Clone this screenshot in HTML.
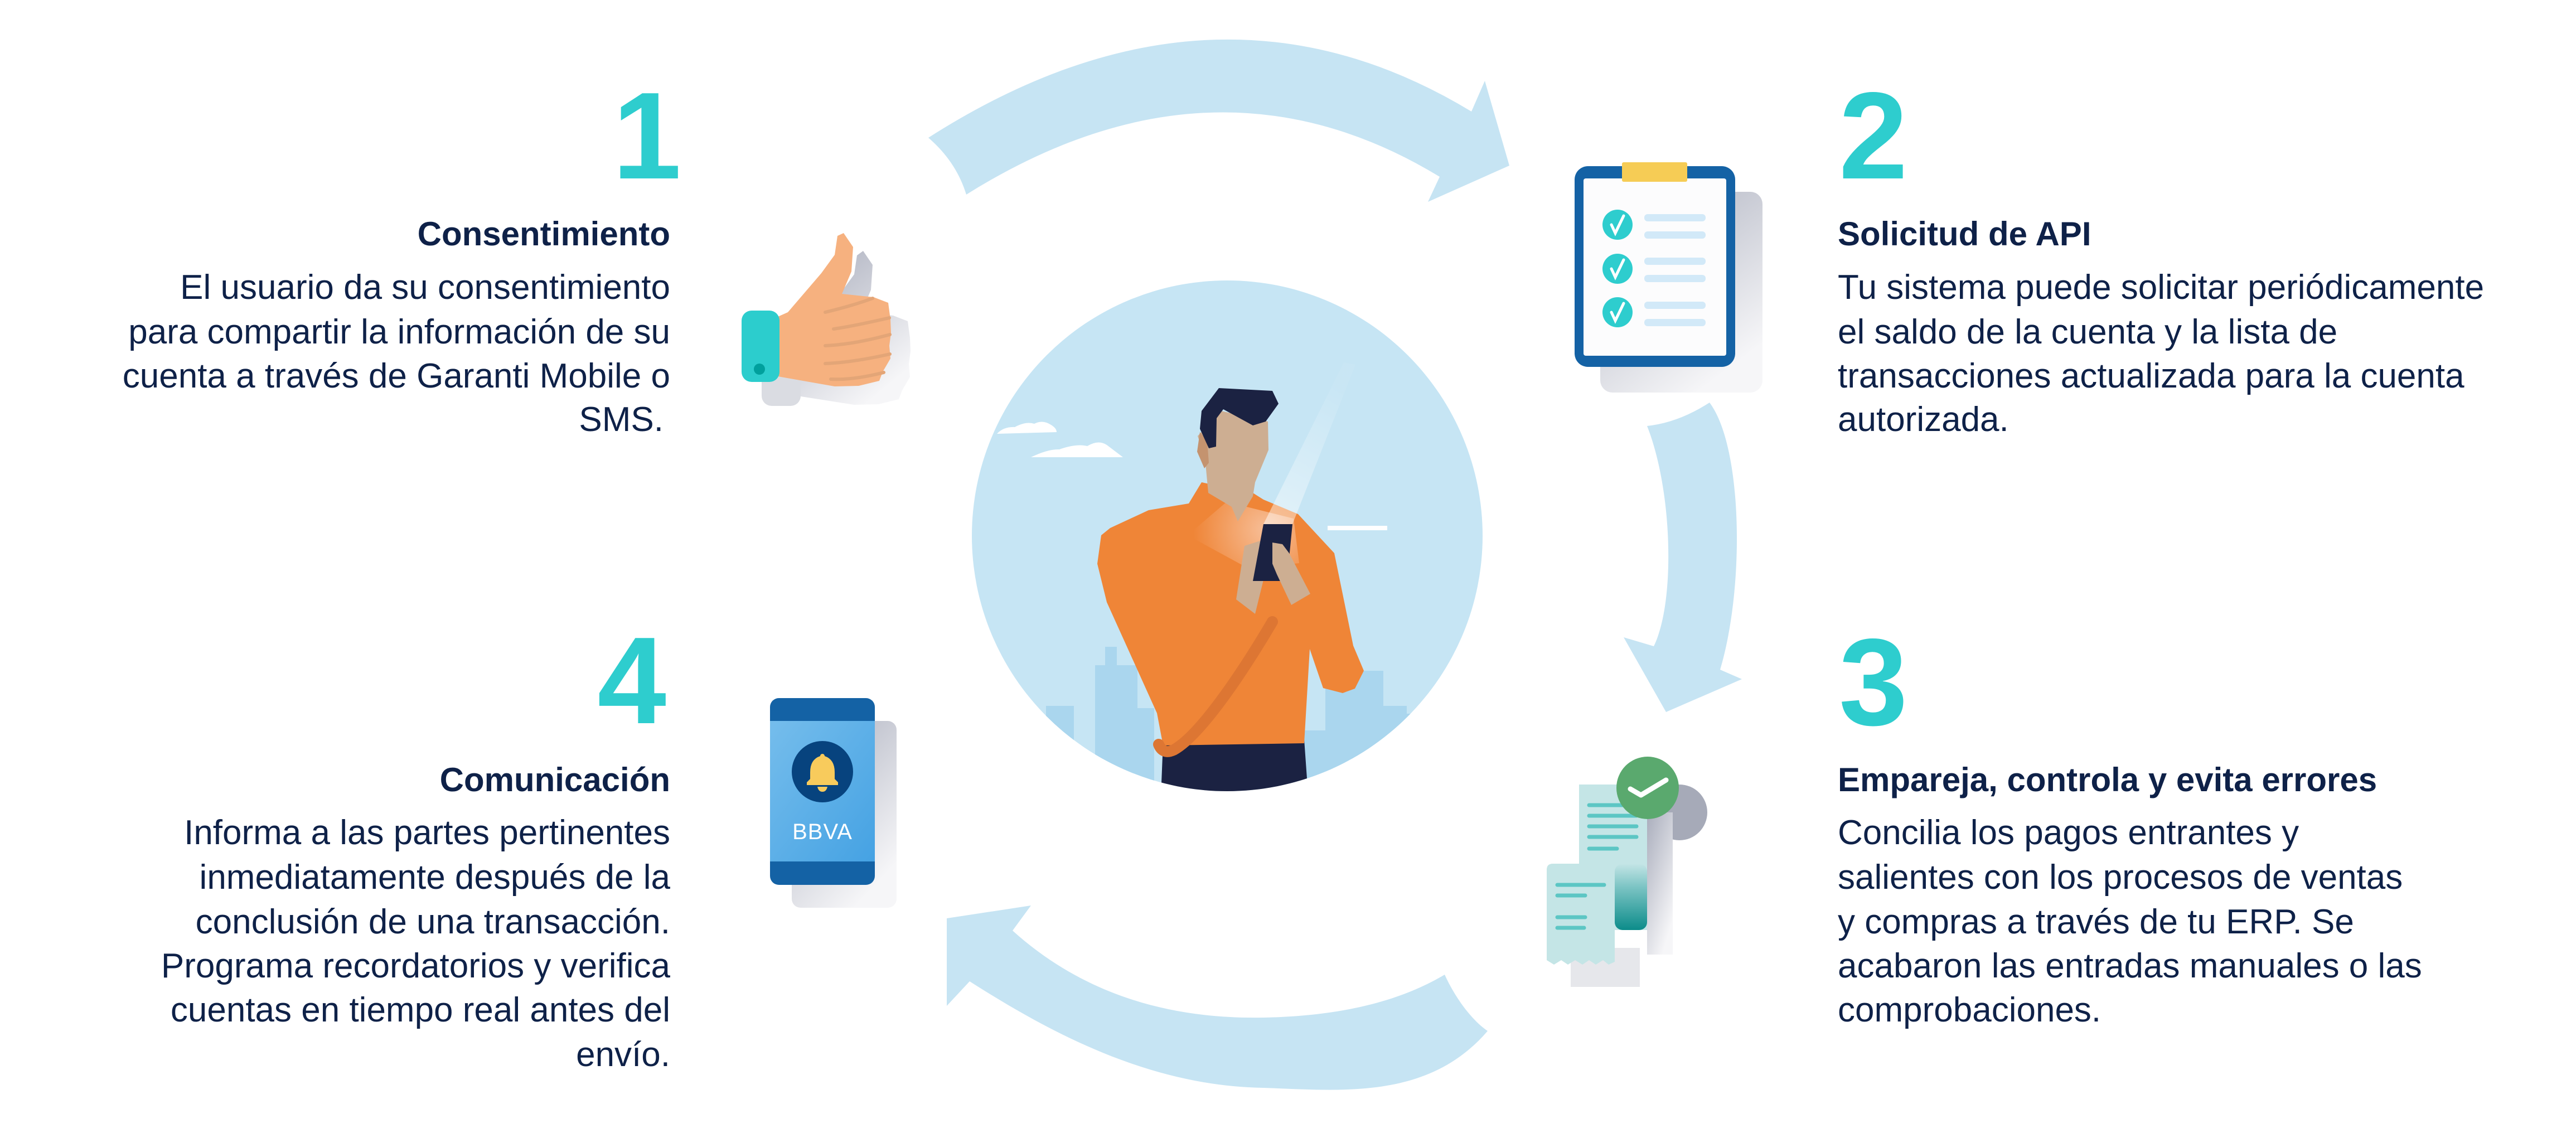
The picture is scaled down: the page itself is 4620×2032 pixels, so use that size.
<!DOCTYPE html>
<html><head><meta charset="utf-8"><style>
html,body{margin:0;padding:0;background:#fff;}
svg{display:block;}
text{font-family:"Liberation Sans",Arial,sans-serif;fill:#0E2148;}
.h{font-weight:bold;font-size:60px;}
.b{font-size:62px;}
.n{font-weight:bold;font-size:222px;fill:#2ECDCE;}
</style></head><body>
<svg width="4620" height="2032" viewBox="0 0 4620 2032" xmlns="http://www.w3.org/2000/svg">
<defs>
<clipPath id="cc"><circle cx="2201" cy="961" r="458"/></clipPath>
<linearGradient id="sh" x1="0" y1="0" x2="0.6" y2="1"><stop offset="0" stop-color="#A9ADBC"/><stop offset="1" stop-color="#F6F6F8"/></linearGradient>
<linearGradient id="beam" x1="0" y1="1" x2="0.3" y2="0"><stop offset="0" stop-color="#fff" stop-opacity="0.5"/><stop offset="1" stop-color="#fff" stop-opacity="0.05"/></linearGradient>
<radialGradient id="glow" cx="2270" cy="950" r="130" gradientUnits="userSpaceOnUse"><stop offset="0" stop-color="#F7BE97"/><stop offset="1" stop-color="#F7BE97" stop-opacity="0"/></radialGradient>
<linearGradient id="scr" x1="0" y1="0" x2="1" y2="1"><stop offset="0" stop-color="#75BDEC"/><stop offset="1" stop-color="#45A2E3"/></linearGradient>
<linearGradient id="teal" x1="0" y1="0" x2="0" y2="1"><stop offset="0" stop-color="#C4E5E6"/><stop offset="0.35" stop-color="#7CC4C4"/><stop offset="1" stop-color="#0C8C8A"/></linearGradient>
</defs>

<!-- arrows -->
<path fill="#C6E4F3" d="M1665,247 Q2177,-80 2639,200 L2663,145 L2707,297 L2561,362 L2582,317 Q2177,71 1733,349 Q1715,290 1665,247 Z"/>
<path fill="#C6E4F3" d="M3066,722 C3125,800 3130,1050 3085,1201 L3124,1218 L2988,1277 L2912,1143 L2966,1159 C3005,1080 3000,880 2954,764 Q3010,758 3066,722 Z"/>
<path fill="#C6E4F3" d="M2668,1849 C2560,1975 2400,1955 2266,1951 C2060,1948 1880,1850 1739,1760 L1698,1804 L1698,1647 L1849,1624 L1816,1669 C1950,1790 2110,1828 2266,1825 C2420,1822 2520,1790 2591,1748 C2610,1790 2640,1830 2668,1849 Z"/>

<!-- central circle -->
<circle cx="2201" cy="961" r="458" fill="#C6E5F4"/>
<g clip-path="url(#cc)">
  <g fill="#AAD6EE">
    <rect x="1876" y="1266" width="50" height="200"/>
    <rect x="1964" y="1193" width="76" height="300"/>
    <rect x="1982" y="1160" width="21" height="40"/>
    <rect x="2040" y="1270" width="30" height="200"/>
    <rect x="2377" y="1203" width="104" height="300"/>
    <rect x="2481" y="1266" width="42" height="300"/>
    <rect x="2523" y="1280" width="40" height="300"/>
    <rect x="2330" y="1310" width="60" height="200"/>
  </g>
  <path fill="#fff" d="M1788,778 Q1800,765 1820,766 Q1840,755 1855,760 Q1870,752 1885,762 Q1895,768 1895,775 Z"/>
  <path fill="#fff" d="M1849,820 Q1880,805 1900,806 Q1930,795 1950,800 Q1970,788 1985,798 L2014,820 Z"/>
  <rect x="2381" y="943" width="107" height="8" fill="#fff"/>
  <polygon fill="#1B2242" points="2086,1330 2339,1326 2350,1480 2080,1480"/>
  <polygon fill="#EF8537" points="2132,903 2155,865 2247,884 2266,896 2328,922 2393,992 2427,1158 2446,1203 2430,1235 2408,1243 2373,1234 2349,1164 2339,1333 2086,1337 2075,1279 1985,1080 1968,1011 1975,960 1991,947 2060,915"/>
  <path fill="url(#glow)" d="M2130,960 L2200,900 L2320,930 L2330,1010 L2240,1020 Z"/>
  <path fill="none" stroke="#DD7633" stroke-width="20" stroke-linecap="round" d="M2282,1115 C2220,1220 2150,1320 2105,1345 C2090,1352 2082,1345 2078,1335"/>
  <polygon fill="#CDAE92" points="2190,737 2274,756 2275,807 2251,865 2247,890 2220,935 2209,909 2167,884 2161,820 2148,782"/>
  <polygon fill="#C4936F" points="2152,775 2165,790 2168,830 2160,840 2147,810"/>
  <polygon fill="#1B2242" points="2186,696 2282,701 2293,724 2270,756 2247,763 2194,734 2182,750 2181,801 2168,804 2152,769 2155,737"/>
  <polygon fill="url(#beam)" points="2266,940 2318,940 2431,654 2410,650"/>
  <polygon fill="#CDAE92" points="2232,979 2260,970 2266,1040 2251,1101 2217,1075"/>
  <polygon fill="#1B2242" points="2266,940 2318,940 2308,1042 2247,1042"/>
  <polygon fill="#CDAE92" points="2282,973 2300,976 2312,992 2350,1065 2316,1085 2290,1030 2282,1011"/>
</g>

<!-- thumbs up -->
<path fill="url(#sh)" d="M1430,605 L1448,595 L1508,525 L1532,492 L1537,458 L1548,450 L1565,475 L1562,520 L1545,560 L1602,566 L1628,576 L1632,606 L1633,630 L1630,653 L1632,676 L1618,700 L1612,716 L1575,725 L1532,726 L1430,710 Z"/>
<rect x="1366" y="600" width="70" height="128" rx="18" fill="#DADCE2"/>
<path fill="#F6B17F" d="M1395,568 L1413,560 L1473,490 L1497,457 L1502,423 L1513,418 L1530,443 L1527,487 L1510,527 L1567,533 L1593,543 L1597,573 L1598,597 L1595,620 L1597,643 L1583,667 L1577,683 L1540,692 L1497,693 L1395,675 Z"/>
<g fill="none" stroke="#E3A577" stroke-width="6" stroke-linecap="round">
  <path d="M1495,590 Q1530,585 1595,570"/><path d="M1480,620 Q1530,618 1596,600"/><path d="M1480,652 Q1530,650 1596,635"/><path d="M1490,680 Q1530,682 1585,668"/>
  <path d="M1480,560 Q1530,548 1565,535"/>
</g>
<rect x="1330" y="557" width="68" height="128" rx="18" fill="#2CCDCD"/>
<circle cx="1362" cy="662" r="10" fill="#00A09D"/>

<!-- clipboard -->
<rect x="2870" y="344" width="291" height="360" rx="22" fill="url(#sh)"/>
<rect x="2824" y="298" width="288" height="360" rx="24" fill="#1462A5"/>
<rect x="2840" y="320" width="256" height="318" rx="4" fill="#FCFCFD"/>
<rect x="2909" y="291" width="117" height="35" rx="3" fill="#F6CC55"/>
<g fill="#2ECDCE"><circle cx="2901" cy="403" r="27"/><circle cx="2901" cy="482" r="27"/><circle cx="2901" cy="560" r="27"/></g>
<g fill="none" stroke="#fff" stroke-width="5" stroke-linecap="round">
  <path d="M2890,403 L2897,418 L2912,387"/><path d="M2890,482 L2897,497 L2912,466"/><path d="M2890,560 L2897,575 L2912,544"/>
</g>
<g fill="#D2E9F8">
  <rect x="2949" y="384" width="110" height="13" rx="6"/><rect x="2949" y="415" width="110" height="13" rx="6"/>
  <rect x="2949" y="462" width="110" height="13" rx="6"/><rect x="2949" y="493" width="110" height="13" rx="6"/>
  <rect x="2949" y="541" width="110" height="13" rx="6"/><rect x="2949" y="572" width="110" height="13" rx="6"/>
</g>

<!-- receipts -->
<circle cx="3012" cy="1457" r="50" fill="#A6AAB8"/>
<rect x="2954" y="1457" width="46" height="255" fill="url(#sh)"/>
<rect x="2817" y="1700" width="124" height="70" fill="#E6E7EB"/>
<rect x="2832" y="1407" width="122" height="261" fill="#C4E5E6"/>
<rect x="2896" y="1549" width="58" height="119" rx="14" fill="url(#teal)"/>
<g stroke="#5CC6C4" stroke-width="7" stroke-linecap="round">
  <line x1="2850" y1="1444" x2="2935" y2="1444"/><line x1="2850" y1="1463" x2="2935" y2="1463"/><line x1="2850" y1="1482" x2="2935" y2="1482"/><line x1="2850" y1="1501" x2="2935" y2="1501"/><line x1="2850" y1="1522" x2="2900" y2="1522"/>
</g>
<path fill="#C4E5E6" d="M2774,1560 Q2774,1549 2785,1549 L2896,1549 L2896,1725 L2885,1730 L2875,1722 L2862,1730 L2850,1722 L2838,1730 L2825,1722 L2812,1730 L2800,1722 L2787,1730 L2774,1722 Z"/>
<g stroke="#5CC6C4" stroke-width="7" stroke-linecap="round">
  <line x1="2793" y1="1587" x2="2877" y2="1587"/><line x1="2793" y1="1606" x2="2843" y2="1606"/><line x1="2793" y1="1645" x2="2843" y2="1645"/><line x1="2793" y1="1664" x2="2841" y2="1664"/>
</g>
<circle cx="2955" cy="1413" r="56" fill="#5AA96E"/>
<path d="M2924,1415 L2943,1426 L2988,1399" fill="none" stroke="#fff" stroke-width="9" stroke-linecap="round" stroke-linejoin="round"/>

<!-- phone -->
<rect x="1420" y="1293" width="188" height="335" rx="16" fill="url(#sh)"/>
<rect x="1381" y="1252" width="188" height="335" rx="16" fill="#1462A5"/>
<rect x="1381" y="1293" width="188" height="252" fill="url(#scr)"/>
<circle cx="1475" cy="1384" r="55" fill="#07437E"/>
<path fill="#F8CB5C" d="M1475,1352 a4,4 0 0 1 4,4 Q1497,1362 1497,1385 L1497,1397 L1503,1403 L1503,1408 L1447,1408 L1447,1403 L1453,1397 L1453,1385 Q1453,1362 1471,1356 a4,4 0 0 1 4,-4 Z"/>
<path fill="#F8CB5C" d="M1466,1411 L1484,1411 Q1482,1420 1475,1420 Q1468,1420 1466,1411 Z"/>
<text x="1475" y="1505" text-anchor="middle" style="fill:#fff;font-size:40px;letter-spacing:1px;">BBVA</text>

<!-- numbers -->
<text class="n" x="1222" y="320" text-anchor="end">1</text>
<text class="n" x="3298" y="320">2</text>
<text class="n" x="3298" y="1300">3</text>
<text class="n" x="1195" y="1297" text-anchor="end">4</text>

<g text-anchor="end">
<text class="h" x="1202" y="440">Consentimiento</text>
<text class="b" x="1202" y="536">El usuario da su consentimiento</text>
<text class="b" x="1202" y="616">para compartir la información de su</text>
<text class="b" x="1202" y="695">cuenta a través de Garanti Mobile o</text>
<text class="b" x="1190" y="773">SMS.</text>
</g>
<text class="h" x="3296" y="440">Solicitud de API</text>
<text class="b" x="3296" y="536">Tu sistema puede solicitar periódicamente</text>
<text class="b" x="3296" y="616">el saldo de la cuenta y la lista de</text>
<text class="b" x="3296" y="695">transacciones actualizada para la cuenta</text>
<text class="b" x="3296" y="773">autorizada.</text>
<text class="h" x="3296" y="1419">Empareja, controla y evita errores</text>
<text class="b" x="3296" y="1514">Concilia los pagos entrantes y</text>
<text class="b" x="3296" y="1594">salientes con los procesos de ventas</text>
<text class="b" x="3296" y="1674">y compras a través de tu ERP. Se</text>
<text class="b" x="3296" y="1753">acabaron las entradas manuales o las</text>
<text class="b" x="3296" y="1832">comprobaciones.</text>
<g text-anchor="end">
<text class="h" x="1202" y="1419">Comunicación</text>
<text class="b" x="1202" y="1514">Informa a las partes pertinentes</text>
<text class="b" x="1202" y="1594">inmediatamente después de la</text>
<text class="b" x="1202" y="1674">conclusión de una transacción.</text>
<text class="b" x="1202" y="1753">Programa recordatorios y verifica</text>
<text class="b" x="1202" y="1832">cuentas en tiempo real antes del</text>
<text class="b" x="1202" y="1912">envío.</text>
</g>
</svg>
</body></html>
